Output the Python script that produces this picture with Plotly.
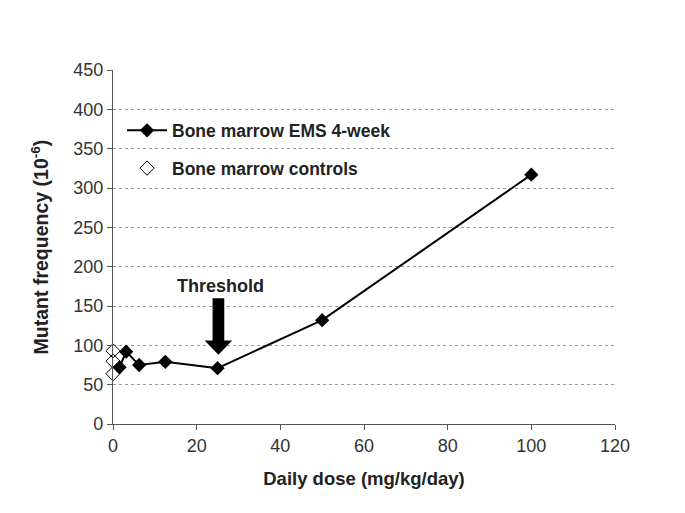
import plotly.graph_objects as go

ems_dose = [1.56, 3.13, 6.25, 12.5, 25, 50, 100]
ems_freq = [72, 92, 75, 79, 71, 132, 317]
ctrl_dose = [0, 0, 0]
ctrl_freq = [93, 80, 64]
x_ticks = [0, 20, 40, 60, 80, 100, 120]
y_ticks = [0, 50, 100, 150, 200, 250, 300, 350, 400, 450]

font_fam = "Liberation Sans, Arial, sans-serif"

fig = go.Figure()
fig.add_trace(go.Scatter(
    x=ems_dose, y=ems_freq, mode="lines+markers", name="<b>Bone marrow EMS 4-week</b>",
    legendgroup="ems",
    line=dict(color="black", width=2),
    marker=dict(symbol="diamond", size=11, color="black"),
))
fig.add_trace(go.Scatter(
    x=ctrl_dose, y=ctrl_freq, mode="markers", name="<b>Bone marrow controls</b>",
    legendgroup="ctrl",
    marker=dict(symbol="diamond-open", size=11, color="black", line=dict(width=1)),
    cliponaxis=False,
))

# Threshold arrow (block arrow)
ax = 25.2
shaft_half = 1.4
head_half = 3.3
top, base, tip = 160, 106, 88
path = (f"M {ax-shaft_half},{top} L {ax+shaft_half},{top} L {ax+shaft_half},{base} "
        f"L {ax+head_half},{base} L {ax},{tip} L {ax-head_half},{base} "
        f"L {ax-shaft_half},{base} Z")
fig.add_shape(type="path", path=path, xref="x", yref="y",
              fillcolor="black", line=dict(color="black", width=0))
fig.add_annotation(x=25.8, y=176, xref="x", yref="y", text="<b>Threshold</b>",
                   showarrow=False, font=dict(size=18, color="#222", family=font_fam))

fig.update_layout(
    width=685, height=513,
    margin=dict(l=105, r=78, t=62, b=97),
    paper_bgcolor="white", plot_bgcolor="white",
    font=dict(family=font_fam, color="#222", size=17),
    showlegend=True,
    legend=dict(x=0.018, y=0.88, xanchor="left", yanchor="top",
                font=dict(size=17.5, color="#222", family=font_fam),
                bgcolor="rgba(0,0,0,0)", tracegroupgap=12, itemwidth=40),
)

fig.update_xaxes(
    range=[0, 120], tickvals=x_ticks, showgrid=False, zeroline=False,
    showline=True, linecolor="#555", linewidth=1.2, ticks="outside", ticklen=5,
    tickcolor="#555", tickfont=dict(size=18, color="#333"),
    title=dict(text="<b>Daily dose (mg/kg/day)</b>", font=dict(size=18.5, color="#222"), standoff=17),
)
fig.update_yaxes(
    range=[0, 450], tickvals=y_ticks, showgrid=True, gridcolor="#999",
    griddash="dot", gridwidth=1, zeroline=False,
    showline=True, linecolor="#555", linewidth=1.2, ticks="outside", ticklen=5,
    tickcolor="#555", tickfont=dict(size=18, color="#333"),
    title=dict(text="<b>Mutant frequency (10<sup>-6</sup>)</b>", font=dict(size=19.5, color="#222"), standoff=19),
)

fig.write_html("out.html")
